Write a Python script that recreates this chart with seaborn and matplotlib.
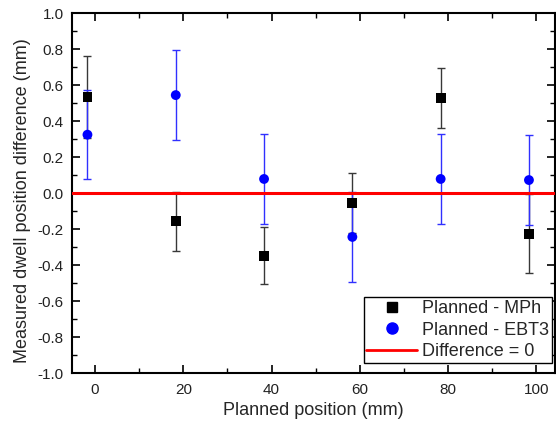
import matplotlib
matplotlib.use("Agg")
import matplotlib.pyplot as plt
from matplotlib.ticker import MultipleLocator
from matplotlib.lines import Line2D
import seaborn as sns
import pandas as pd

positions = [-1.7, 18.3, 38.3, 58.3, 78.3, 98.3]
mph_values = [0.533, -0.157, -0.348, -0.054, 0.528, -0.226]
mph_errors = [0.23, 0.163, 0.159, 0.167, 0.165, 0.22]
ebt3_values = [0.324, 0.544, 0.078, -0.244, 0.078, 0.072]
ebt3_errors = [0.247, 0.252, 0.25, 0.25, 0.25, 0.25]
series_names = ["Planned - MPh", "Planned - EBT3"]
ref_label = "Difference = 0"

sns.set_theme(style="ticks")
plt.rcParams["font.family"] = ["Liberation Sans", "DejaVu Sans"]

df = pd.DataFrame({
    "x": positions * 2,
    "y": mph_values + ebt3_values,
    "err": mph_errors + ebt3_errors,
    "series": [series_names[0]] * 6 + [series_names[1]] * 6,
})

fig = plt.figure(figsize=(5.56, 4.28), dpi=100)
ax = fig.add_axes([0.1295, 0.1285, 0.8695, 0.8411])

colors = {series_names[0]: "#000000", series_names[1]: "#0000FF"}
ecolors = {series_names[0]: "#383838", series_names[1]: "#3030FF"}

for name, sub in df.groupby("series", sort=False):
    ax.errorbar(sub["x"], sub["y"], yerr=sub["err"], fmt="none",
                ecolor=ecolors[name], elinewidth=1.0, capsize=3, capthick=1.0, zorder=2)

ax.axhline(0, color="#FF0000", lw=2.2, zorder=3)

sns.scatterplot(data=df, x="x", y="y", hue="series", style="series",
                palette=colors, markers={series_names[0]: "s", series_names[1]: "o"},
                s=[50], ax=ax, legend=False, zorder=4, edgecolor="none")

ax.set_xlim(-5.2, 104.3)
ax.set_ylim(-1.0, 1.0)
ax.xaxis.set_major_locator(MultipleLocator(20))
ax.xaxis.set_minor_locator(MultipleLocator(10))
ax.yaxis.set_major_locator(MultipleLocator(0.2))
ax.yaxis.set_minor_locator(MultipleLocator(0.1))
ax.yaxis.set_major_formatter(plt.FuncFormatter(lambda v, p: f"{v:.1f}"))
ax.tick_params(which="both", direction="in", top=True, right=True, color="black")
ax.tick_params(which="major", length=6, width=1.2, labelsize=11, labelcolor="#222222", pad=7)
ax.tick_params(axis="y", which="major", pad=6)
ax.tick_params(which="minor", length=3.5, width=1.0)
for s in ax.spines.values():
    s.set_linewidth(1.5)
    s.set_color("black")

ax.set_xlabel("Planned position (mm)", fontsize=13, labelpad=4)
ax.set_ylabel("Measured dwell position difference (mm)", fontsize=13)
ax.yaxis.set_label_coords(-0.085, 0.48)

handles = [
    Line2D([], [], marker="s", color="black", ls="none", markersize=7),
    Line2D([], [], marker="o", color="#0000FF", ls="none", markersize=8),
    Line2D([], [], color="#FF0000", lw=2),
]
leg = ax.legend(handles, series_names + [ref_label], loc="lower right",
                bbox_to_anchor=(0.992, 0.028), fontsize=13, frameon=True,
                fancybox=False, edgecolor="black", framealpha=1,
                handlelength=2.8, handletextpad=0.28, borderpad=0.15,
                labelspacing=0.25, borderaxespad=0)
leg.get_frame().set_linewidth(1.0)

fig.savefig("out.png", dpi=100)
